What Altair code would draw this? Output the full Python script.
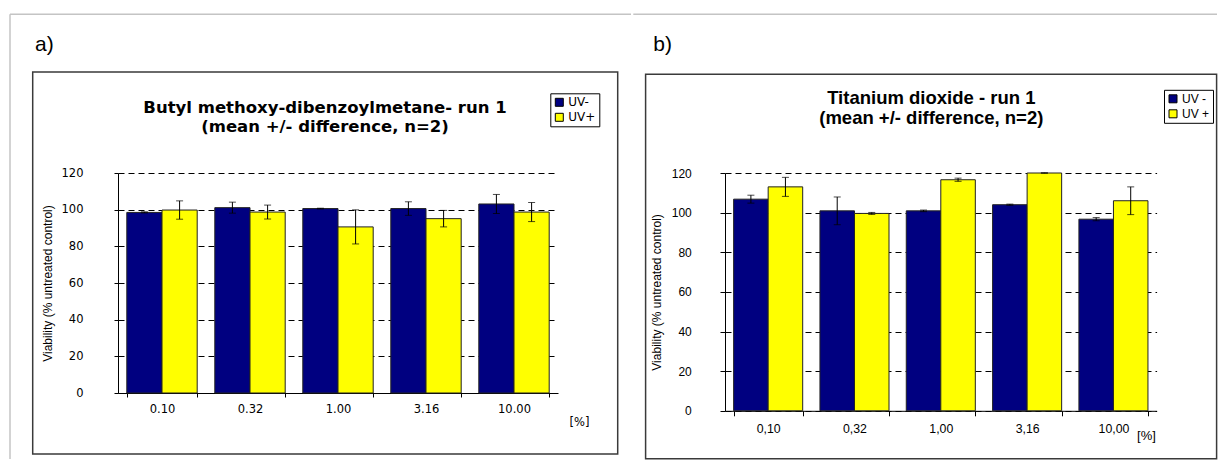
import altair as alt
import pandas as pd

# ---------------- data ----------------
series_a = ["UV-", "UV+"]
categories_a = ["0.10", "0.32", "1.00", "3.16", "10.00"]
uv_minus_a = [98.5, 101.1, 100.6, 100.6, 103.1]
uv_minus_a_err = [0.3, 3.0, 0.2, 3.7, 5.2]
uv_plus_a = [99.8, 98.7, 90.6, 95.1, 98.7]
uv_plus_a_err = [5.0, 3.8, 9.3, 4.5, 5.2]

series_b = ["UV -", "UV +"]
categories_b = ["0,10", "0,32", "1,00", "3,16", "10,00"]
uv_minus_b = [106.8, 100.9, 100.9, 104.0, 96.7]
uv_minus_b_err = [2.0, 7.0, 0.4, 0.3, 0.8]
uv_plus_b = [113.0, 99.6, 116.6, 120.0, 106.0]
uv_plus_b_err = [4.8, 0.5, 0.8, 0.1, 7.0]

y_ticks = [0, 20, 40, 60, 80, 100, 120]
bar_colors = ["#000080", "#FFFF00"]

title_a = ["Butyl methoxy-dibenzoylmetane- run 1", "(mean +/- difference, n=2)"]
title_b = ["Titanium dioxide - run 1", "(mean +/- difference, n=2)"]
y_title = "Viability  (% untreated control)"
x_title = "[%]"

ARIAL = "Liberation Sans"
DEJAVU = "DejaVu Sans"


def make_df(cats, series, means_list, errs_list):
    rows = []
    for s, means, errs in zip(series, means_list, errs_list):
        for c, m, e in zip(cats, means, errs):
            rows.append({"conc": c, "uv": s, "mean": m, "lo": m - e, "hi": m + e})
    return pd.DataFrame(rows)


df_a = make_df(categories_a, series_a, [uv_minus_a, uv_plus_a], [uv_minus_a_err, uv_plus_a_err])
df_b = make_df(categories_b, series_b, [uv_minus_b, uv_plus_b], [uv_minus_b_err, uv_plus_b_err])
one = pd.DataFrame({"k": [0]})


def panel(df, cats, series, W, H, p):
    x_axis = alt.Axis(
        tickBand="extent", grid=False, labelAngle=0,
        domainColor="black", tickColor="black", tickSize=p["xtick"],
        labelPadding=p["xlabpad"], labelFont=p["tickfont"], labelFontSize=p["xlabsize"],
        labelColor="black",
        titleX=p["xtitle_x"], titleY=p["xtitle_y"], titleAlign="center",
        titleBaseline="middle", titleFont=p["tickfont"], titleFontSize=p["xtitlesize"],
        titleFontWeight="normal", titleColor="black",
    )
    y_axis = alt.Axis(
        values=y_ticks, tickCount=7, labelOverlap=False, grid=True, gridDash=[6, 4],
        gridColor="black", gridWidth=1,
        gridOpacity=1, domainColor="black", tickColor="black", tickSize=p["ytick"],
        labelPadding=p["ylabpad"], labelFont=p["tickfont"], labelFontSize=p["ylabsize"],
        labelColor="black",
        titleX=p["ytitle_x"], titleY=H / 2, titleAngle=270, titleAlign="center",
        titleBaseline="middle", titleFont=ARIAL, titleFontSize=12,
        titleFontWeight="normal", titleColor="black",
    )
    xs = alt.Scale(paddingInner=0.2, paddingOuter=0.1)
    ys = alt.Scale(domain=[0, 120], nice=False)

    def X():
        return alt.X("conc:N", sort=cats, scale=xs, axis=x_axis, title=x_title)

    def XO():
        return alt.XOffset("uv:N", sort=series,
                           scale=alt.Scale(paddingInner=0, paddingOuter=0))

    def Y(field):
        return alt.Y(field, type="quantitative", scale=ys, axis=y_axis, title=y_title)

    frame_top = alt.Chart(one).mark_rule(color="#c4c4c4", strokeWidth=1.5).encode(
        x=alt.value(p["gx0"]), x2=alt.value(p["gx1"]),
        y=alt.value(p["gy"]), y2=alt.value(p["gy"]))
    layers = [frame_top]
    if p.get("gleft"):
        frame_left = alt.Chart(one).mark_rule(color="#c4c4c4", strokeWidth=1.5).encode(
            x=alt.value(p["gx0"]), x2=alt.value(p["gx0"]),
            y=alt.value(p["gy"]), y2=alt.value(p["gybot"]))
        layers.append(frame_left)

    box = alt.Chart(one).mark_rect(fill="white", fillOpacity=0, stroke="#3a3a3a",
                                   strokeWidth=1.5).encode(
        x=alt.value(p["bx0"]), x2=alt.value(p["bx1"]),
        y=alt.value(p["by0"]), y2=alt.value(p["by1"]))
    layers.append(box)

    bars = alt.Chart(df).mark_bar(stroke="#222222", strokeWidth=1).encode(
        x=X(), xOffset=XO(), y=Y("mean"),
        color=alt.Color("uv:N", sort=series,
                        scale=alt.Scale(domain=series, range=bar_colors),
                        legend=alt.Legend(
                            orient="none", legendX=p["lx"], legendY=p["ly"], title=None,
                            symbolType="square", symbolSize=64, symbolStrokeColor="black",
                            symbolStrokeWidth=1, labelFont=p["legfont"], labelFontSize=12,
                            labelColor="black", padding=3, strokeColor="black",
                            fillColor="white", rowPadding=3, labelOffset=3)),
    )
    layers.append(bars)

    err = alt.Chart(df).mark_rule(color="black", strokeWidth=1).encode(
        x=X(), xOffset=XO(), y=Y("lo"), y2="hi:Q")
    cap_hi = alt.Chart(df).mark_tick(color="black", thickness=1, size=7,
                                     orient="horizontal").encode(
        x=X(), xOffset=XO(), y=Y("hi"))
    cap_lo = alt.Chart(df).mark_tick(color="black", thickness=1, size=7,
                                     orient="horizontal").encode(
        x=X(), xOffset=XO(), y=Y("lo"))
    layers += [err, cap_hi, cap_lo]

    for line, ty in zip(p["title"], p["title_y"]):
        layers.append(alt.Chart(one).mark_text(
            text=line, font=p["titlefont"], fontSize=p["titlesize"], fontWeight="bold",
            align="center", baseline="middle", color="black").encode(
            x=alt.value(p["title_x"]), y=alt.value(ty)))

    layers.append(alt.Chart(one).mark_text(
        text=p["tag"], font=ARIAL, fontSize=21, align="left", baseline="alphabetic",
        color="black").encode(x=alt.value(p["tag_x"]), y=alt.value(p["tag_y"])))

    return alt.layer(*layers).properties(width=W, height=H)


pa = dict(
    xtick=4, xlabpad=6, tickfont=DEJAVU, xlabsize=11.5, xtitle_x=461, xtitle_y=29.3,
    xtitlesize=11.5, ytick=4, ylabpad=31, ylabsize=11.5, ytitle_x=-71,
    gx0=-108, gx1=513, gy=-158.7, gleft=True, gybot=286,
    bx0=-85.3, bx1=499.7, by0=-101, by1=281,
    lx=432.3, ly=-79.7, legfont=DEJAVU,
    title=title_a, title_y=[-65, -46], title_x=207, titlefont=DEJAVU, titlesize=16.5,
    tag="a)", tag_x=-83, tag_y=-121.7,
)
pb = dict(
    xtick=5, xlabpad=7, tickfont=ARIAL, xlabsize=12.3, xtitle_x=421, xtitle_y=24.4,
    xtitlesize=13, ytick=5, ylabpad=28.7, ylabsize=12, ytitle_x=-68.7,
    gx0=-91.7, gx1=492, gy=-158.7, gleft=False,
    bx0=-79.4, bx1=491.6, by0=-98.8, by1=285.8,
    lx=439, ly=-83.2, legfont=ARIAL,
    title=title_b, title_y=[-74.8, -55.5], title_x=206.3, titlefont=ARIAL, titlesize=18.5,
    tag="b)", tag_x=-71.7, tag_y=-121.7,
)

left = panel(df_a, categories_a, series_a, 440, 220, pa)
right = panel(df_b, categories_b, series_b, 431.6, 237.8, pb)

chart = alt.hconcat(left, right, spacing=0).resolve_scale(
    x="independent", y="independent", color="independent", xOffset="independent"
).resolve_legend(color="independent").properties(
    padding={"left": 1, "top": 5, "right": 0, "bottom": 0},
    background="white",
).configure_view(strokeWidth=0)

chart.save("out.html", embed_options={"renderer": "svg", "actions": False})
